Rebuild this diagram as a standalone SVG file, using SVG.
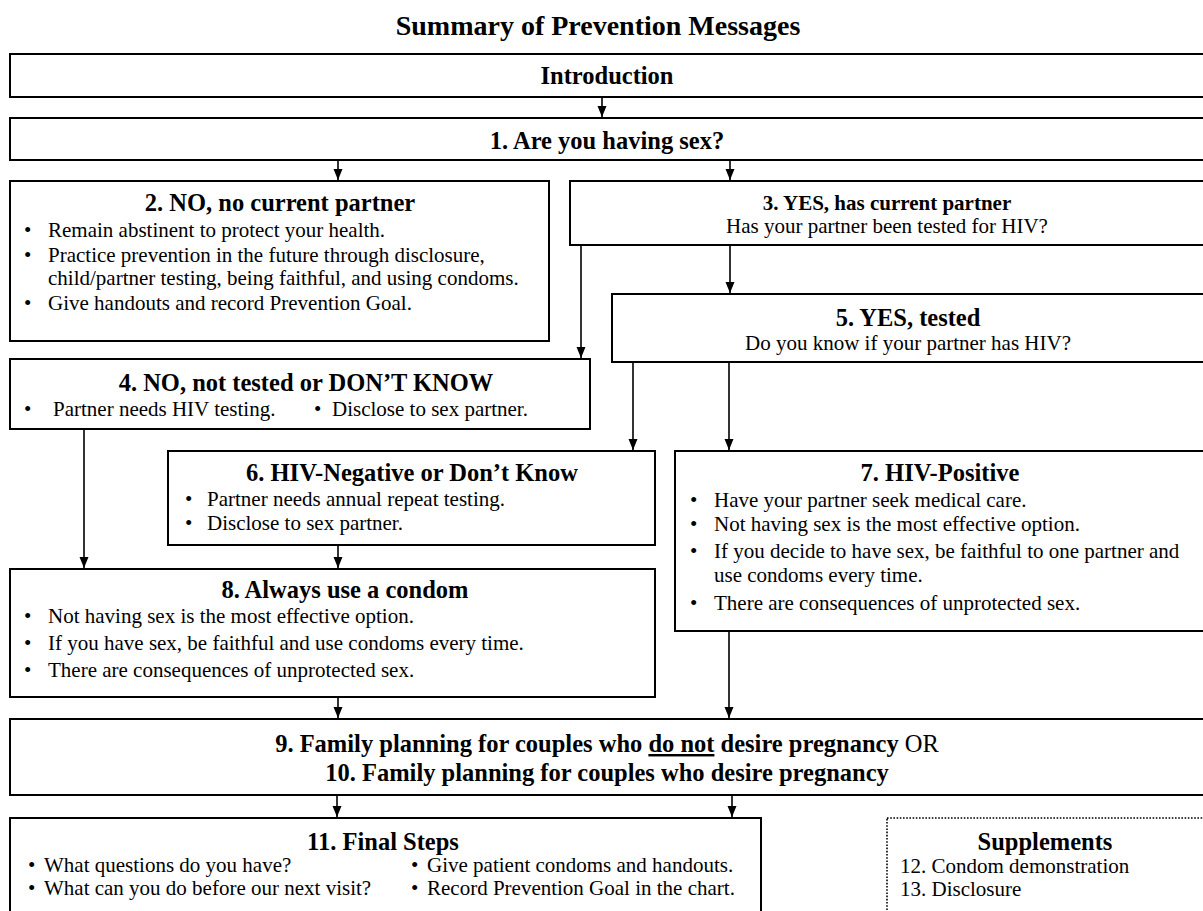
<svg xmlns="http://www.w3.org/2000/svg" width="1203" height="911" viewBox="0 0 1203 911">
  <style>
    text { font-family: "Liberation Serif", "Times New Roman", serif; fill: #000; }
    .box { fill: #fff; stroke: #000; stroke-width: 2; }
    .dotted { fill: #fff; stroke: #000; stroke-width: 1.6; stroke-dasharray: 1.6 1.6; }
    .title { font-size: 28px; font-weight: bold; }
    .head { font-size: 24.5px; font-weight: bold; text-anchor: middle; }
    .head-sm { font-size: 21px; font-weight: bold; text-anchor: middle; }
    .body { font-size: 21px; }
    .mid { text-anchor: middle; }
    .conn { stroke: #000; stroke-width: 1.6; fill: none; marker-end: url(#arrow); }
  </style>
  <defs>
    <marker id="arrow" markerUnits="userSpaceOnUse" markerWidth="11" markerHeight="10" refX="11" refY="5" orient="auto" viewBox="0 0 11 10">
      <path d="M0,0.5 L11,5 L0,9.5 Z" fill="#000"/>
    </marker>
  </defs>
  <rect width="1203" height="911" fill="#fff"/>

  <text class="title" x="598" y="35" text-anchor="middle">Summary of Prevention Messages</text>

  <!-- connectors -->
  <g id="connectors">
    <line class="conn" x1="602" y1="97" x2="602" y2="117"/>
    <line class="conn" x1="338" y1="160" x2="338" y2="180"/>
    <line class="conn" x1="730" y1="160" x2="730" y2="180"/>
    <line class="conn" x1="581" y1="245" x2="581" y2="358"/>
    <line class="conn" x1="730" y1="245" x2="730" y2="293"/>
    <line class="conn" x1="633" y1="362" x2="633" y2="450"/>
    <line class="conn" x1="729" y1="362" x2="729" y2="450"/>
    <line class="conn" x1="84" y1="429" x2="84" y2="568"/>
    <line class="conn" x1="338" y1="545" x2="338" y2="568"/>
    <line class="conn" x1="338" y1="697" x2="338" y2="718"/>
    <line class="conn" x1="729" y1="631" x2="729" y2="718"/>
    <line class="conn" x1="337" y1="795" x2="337" y2="817"/>
    <line class="conn" x1="732" y1="795" x2="732" y2="817"/>
  </g>

  <g id="intro">
    <rect class="box" x="10" y="54" width="1196" height="43"/>
    <text class="head" x="607" y="84">Introduction</text>
  </g>

  <g id="n1">
    <rect class="box" x="10" y="118" width="1196" height="42"/>
    <text class="head" x="607" y="149">1. Are you having sex?</text>
  </g>

  <g id="n2">
    <rect class="box" x="10" y="181" width="539" height="160"/>
    <text class="head" x="280" y="211">2. NO, no current partner</text>
    <text class="body" x="24" y="237">•</text>
    <text class="body" x="48" y="237">Remain abstinent to protect your health.</text>
    <text class="body" x="24" y="262">•</text>
    <text class="body" x="48" y="262">Practice prevention in the future through disclosure,</text>
    <text class="body" x="48" y="285">child/partner testing, being faithful, and using condoms.</text>
    <text class="body" x="24" y="310">•</text>
    <text class="body" x="48" y="310">Give handouts and record Prevention Goal.</text>
  </g>

  <g id="n3">
    <rect class="box" x="570" y="181" width="636" height="64"/>
    <text class="head-sm" x="887" y="210">3. YES, has current partner</text>
    <text class="body mid" x="887" y="233">Has your partner been tested for HIV?</text>
  </g>

  <g id="n5">
    <rect class="box" x="612" y="294" width="594" height="68"/>
    <text class="head" x="908" y="326">5. YES, tested</text>
    <text class="body mid" x="908" y="350">Do you know if your partner has HIV?</text>
  </g>

  <g id="n4">
    <rect class="box" x="10" y="359" width="580" height="70"/>
    <text class="head" x="306" y="391">4. NO, not tested or DON’T KNOW</text>
    <text class="body" x="24" y="416">•</text>
    <text class="body" x="53" y="416">Partner needs HIV testing.</text>
    <text class="body" x="314" y="416">•</text>
    <text class="body" x="332" y="416">Disclose to sex partner.</text>
  </g>

  <g id="n6">
    <rect class="box" x="168" y="451" width="487" height="94"/>
    <text class="head" x="412" y="481">6. HIV-Negative or Don’t Know</text>
    <text class="body" x="185" y="506">•</text>
    <text class="body" x="207" y="506">Partner needs annual repeat testing.</text>
    <text class="body" x="185" y="530">•</text>
    <text class="body" x="207" y="530">Disclose to sex partner.</text>
  </g>

  <g id="n7">
    <rect class="box" x="675" y="451" width="531" height="180"/>
    <text class="head" x="940" y="481">7. HIV-Positive</text>
    <text class="body" x="690" y="507">•</text>
    <text class="body" x="714" y="507">Have your partner seek medical care.</text>
    <text class="body" x="690" y="531">•</text>
    <text class="body" x="714" y="531">Not having sex is the most effective option.</text>
    <text class="body" x="690" y="558">•</text>
    <text class="body" x="714" y="558">If you decide to have sex, be faithful to one partner and</text>
    <text class="body" x="714" y="582">use condoms every time.</text>
    <text class="body" x="690" y="610">•</text>
    <text class="body" x="714" y="610">There are consequences of unprotected sex.</text>
  </g>

  <g id="n8">
    <rect class="box" x="10" y="569" width="645" height="128"/>
    <text class="head" x="345" y="598">8. Always use a condom</text>
    <text class="body" x="24" y="623">•</text>
    <text class="body" x="48" y="623">Not having sex is the most effective option.</text>
    <text class="body" x="24" y="650">•</text>
    <text class="body" x="48" y="650">If you have sex, be faithful and use condoms every time.</text>
    <text class="body" x="24" y="677">•</text>
    <text class="body" x="48" y="677">There are consequences of unprotected sex.</text>
  </g>

  <g id="n9">
    <rect class="box" x="10" y="719" width="1196" height="76"/>
    <text class="head" x="607" y="752">9. Family planning for couples who <tspan text-decoration="underline">do not</tspan> desire pregnancy <tspan font-weight="normal">OR</tspan></text>
    <text class="head" x="607" y="781">10. Family planning for couples who desire pregnancy</text>
  </g>

  <g id="n11">
    <rect class="box" x="10" y="818" width="751" height="110"/>
    <text class="head" x="383" y="850">11. Final Steps</text>
    <text class="body" x="28" y="872">•</text>
    <text class="body" x="44" y="872">What questions do you have?</text>
    <text class="body" x="28" y="895">•</text>
    <text class="body" x="44" y="895">What can you do before our next visit?</text>
    <text class="body" x="411" y="872">•</text>
    <text class="body" x="427" y="872">Give patient condoms and handouts.</text>
    <text class="body" x="411" y="895">•</text>
    <text class="body" x="427" y="895">Record Prevention Goal in the chart.</text>
  </g>

  <g id="supplements">
    <rect class="dotted" x="887" y="818" width="320" height="110"/>
    <text class="head" x="1045" y="850">Supplements</text>
    <text class="body" x="900" y="873">12. Condom demonstration</text>
    <text class="body" x="900" y="896">13. Disclosure</text>
  </g>
</svg>
